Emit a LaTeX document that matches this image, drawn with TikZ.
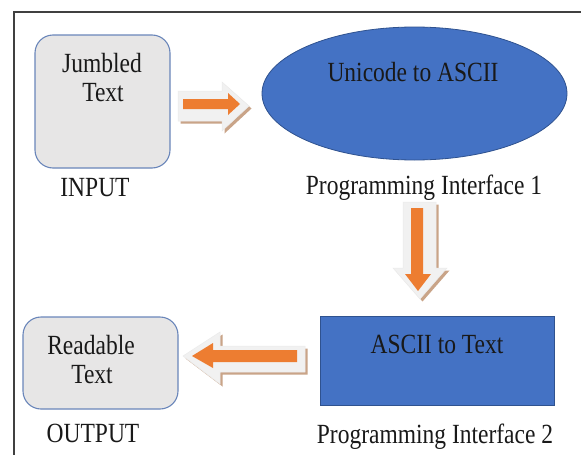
\documentclass[tikz,border=0pt]{standalone}
\usepackage{fontspec}
\setmainfont{Liberation Serif}
\usetikzlibrary{shapes.geometric}
\definecolor{officeblue}{HTML}{4472C4}
\definecolor{blueedge}{HTML}{2F528F}
\definecolor{boxfill}{HTML}{E7E6E6}
\definecolor{boxedge}{HTML}{6A86BA}
\definecolor{arrorange}{HTML}{ED7D31}
\definecolor{arrshade}{HTML}{C9A488}
\definecolor{arrlight}{HTML}{F1F1F1}
\definecolor{framegray}{HTML}{404040}
% taller-looking serif labels
\newcommand{\tallLabel}[1]{\scalebox{1}[1.18]{#1}}
\tikzset{
  txt/.style={font=\fontsize{23.5}{26}\selectfont, inner sep=0pt, text=black!90},
  softbox/.style={draw=boxedge, line width=1.1pt, fill=boxfill, rounded corners=18pt},
  bluebox/.style={draw=blueedge, line width=0.8pt, fill=officeblue},
  blockshade/.style={fill=arrshade},
  blocklight/.style={fill=arrlight, draw=black!8, line width=0.5pt},
  blockcore/.style={fill=arrorange},
}
\begin{document}
\begin{tikzpicture}[x=1pt,y=-1pt]
\useasboundingbox (0,0) rectangle (581,455);
\fill[white] (0,0) rectangle (581,455);

% outer frame (only the top and left sides are visible)
\draw[framegray, line width=2pt] (14,455) -- (14,12) -- (581,12);

% shapes
\node[softbox, minimum width=135pt, minimum height=133pt] (jumbled) at (102.5,101.5) {};
\node[ellipse, bluebox, minimum width=305pt, minimum height=133pt] (unicode) at (414.5,93.5) {};
\node[rectangle, bluebox, minimum width=234pt, minimum height=89pt] (ascii) at (437,360.5) {};
\node[softbox, minimum width=155pt, minimum height=92pt] (readable) at (100.5,363) {};

% texts
\node[txt] (jumbledA) at (102,63) {\tallLabel{Jumbled}};
\node[txt] (jumbledB) at (103,93) {\tallLabel{Text}};
\node[txt] (input) at (95,188) {\tallLabel{INPUT}};
\node[txt] (unicodeT) at (413,72) {\tallLabel{Unicode to ASCII}};
\node[txt] (pi1) at (424,188) {\tallLabel{Programming Interface 1}};
\node[txt] (asciiT) at (437,344) {\tallLabel{ASCII to Text}};
\node[txt] (pi2) at (435,437) {\tallLabel{Programming Interface 2}};
\node[txt] (readA) at (91,345) {\tallLabel{Readable}};
\node[txt] (readB) at (92,375) {\tallLabel{Text}};
\node[txt] (output) at (93,433) {\tallLabel{OUTPUT}};

% block arrow: input -> interface 1
\begin{scope}[shift={(2.5,2.5)}]
  \fill[blockshade] (178,91) -- (222,91) -- (222,82) -- (249,106) -- (222,131) -- (222,121) -- (178,121) -- cycle;
\end{scope}
\filldraw[blocklight] (178,91) -- (222,91) -- (222,82) -- (249,106) -- (222,131) -- (222,121) -- (178,121) -- cycle;
\fill[blockcore] (183,99) -- (228,99) -- (228,93) -- (240,104) -- (228,115) -- (228,109) -- (183,109) -- cycle;

% block arrow: interface 1 -> interface 2
\begin{scope}[shift={(2.5,2.5)}]
  \fill[blockshade] (403,202) -- (436,202) -- (436,268) -- (447,268) -- (420,299) -- (393,268) -- (403,268) -- cycle;
\end{scope}
\filldraw[blocklight] (403,202) -- (436,202) -- (436,268) -- (447,268) -- (420,299) -- (393,268) -- (403,268) -- cycle;
\fill[blockcore] (411,208) -- (423,208) -- (423,274) -- (431,274) -- (418,291) -- (405,274) -- (411,274) -- cycle;

% block arrow: interface 2 -> output
\begin{scope}[shift={(2.5,2.5)}]
  \fill[blockshade] (305,346) -- (220,346) -- (220,332) -- (183,356) -- (220,384) -- (220,372) -- (305,372) -- cycle;
\end{scope}
\filldraw[blocklight] (305,346) -- (220,346) -- (220,332) -- (183,356) -- (220,384) -- (220,372) -- (305,372) -- cycle;
\fill[blockcore] (297,350) -- (213,350) -- (213,343) -- (192,356) -- (213,368) -- (213,362) -- (297,362) -- cycle;
\end{tikzpicture}
\end{document}
